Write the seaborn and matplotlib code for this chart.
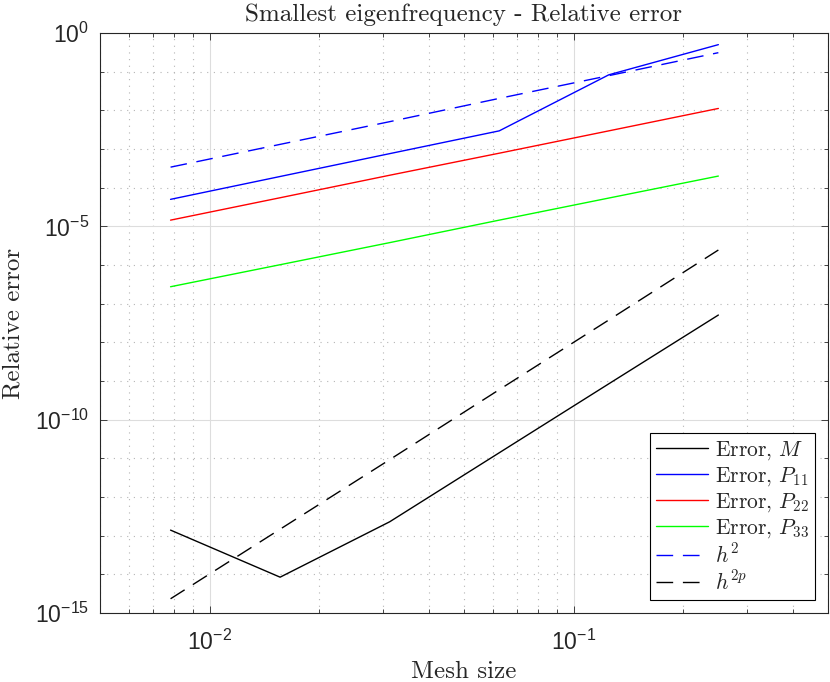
import numpy as np
import pandas as pd
import seaborn as sns
import matplotlib.pyplot as plt
from matplotlib.ticker import FixedLocator, FuncFormatter, LogLocator, NullFormatter

# mesh sizes
h = [1/128, 1/64, 1/32, 1/16, 1/8, 1/4]

# relative errors
err_M = [1.4e-13, 8.5e-15, 2.3e-13, 1.4e-11, 8.5e-10, 5.1e-8]
err_P11 = [5.0e-5, 1.95e-4, 7.6e-4, 2.95e-3, 8.3e-2, 0.50]
err_P22 = [1.45e-5, 5.5e-5, 2.1e-4, 7.8e-4, 2.95e-3, 1.12e-2]
err_P33 = [2.75e-7, 1.02e-6, 3.8e-6, 1.45e-5, 5.4e-5, 2.0e-4]
ref_h2 = [3.4e-4, 1.32e-3, 5.1e-3, 2.04e-2, 7.9e-2, 0.31]
ref_h2p = [2.35e-15, 1.48e-13, 9.3e-12, 6.0e-10, 3.8e-8, 2.45e-6]

series = [
    ('Error, $M$', err_M, 'black', '-'),
    ('Error, $P_{11}$', err_P11, 'blue', '-'),
    ('Error, $P_{22}$', err_P22, 'red', '-'),
    ('Error, $P_{33}$', err_P33, (0, 1, 0), '-'),
    ('$h^2$', ref_h2, 'blue', '--'),
    ('$h^{2p}$', ref_h2p, 'black', '--'),
]

sns.set_theme(style='ticks')
plt.rcParams['font.family'] = ['cmr10', 'DejaVu Serif']
plt.rcParams['mathtext.fontset'] = 'cm'
plt.rcParams['axes.formatter.use_mathtext'] = True
plt.rcParams['axes.unicode_minus'] = False

fig = plt.figure(figsize=(8.3, 6.82), dpi=100)
ax = fig.add_axes([0.1205, 0.101, 0.877, 0.8506])

for label, vals, color, ls in series:
    df = pd.DataFrame({'h': h, 'err': vals})
    sns.lineplot(data=df, x='h', y='err', color=color, linewidth=1.0,
                 ax=ax, label=label)
    if ls == '--':
        ax.lines[-1].set_dashes((12, 7))

ax.set_xscale('log')
ax.set_yscale('log')
ax.set_xlim(5e-3, 0.5)
ax.set_ylim(1e-15, 1e0)

# MATLAB-like ticks: labels only at a few decades
sci = FuncFormatter(lambda v, p: r'$\mathregular{10^{%d}}$' % int(round(np.log10(v))))
ax.xaxis.set_major_locator(FixedLocator([1e-2, 1e-1]))
ax.xaxis.set_minor_locator(LogLocator(base=10, subs=np.arange(2, 10), numticks=20))
ax.xaxis.set_major_formatter(sci)
ax.xaxis.set_minor_formatter(NullFormatter())
ax.yaxis.set_major_locator(FixedLocator([1e-15, 1e-10, 1e-5, 1e0]))
ax.yaxis.set_minor_locator(FixedLocator([10.0 ** k for k in range(-15, 1) if k % 5 != 0]))
ax.yaxis.set_major_formatter(sci)
ax.yaxis.set_minor_formatter(NullFormatter())

ax.tick_params(which='both', direction='in', top=True, right=True, width=0.6)
ax.tick_params(which='major', length=5, labelsize=16.5, labelfontfamily='Liberation Sans')
ax.tick_params(axis='x', which='major', pad=12)
ax.tick_params(axis='y', which='major', pad=8)
ax.tick_params(which='minor', length=3)
for s in ax.spines.values():
    s.set_linewidth(0.8)

ax.grid(True, which='major', color='#dddddd', linewidth=0.8, linestyle='-')
ax.grid(True, which='minor', color='#b5b5b5', linewidth=0.8, linestyle=(0, (1, 5)))
ax.set_axisbelow(True)

ax.set_title('Smallest eigenfrequency - Relative error', fontsize=18, pad=9)
ax.set_xlabel('Mesh size', fontsize=18)
ax.set_ylabel('Relative error', fontsize=18)
ax.xaxis.set_label_coords(0.5, -0.082)
ax.yaxis.set_label_coords(-0.104, 0.5)

leg = ax.legend(loc='lower right', fontsize=15.5, frameon=True, fancybox=False,
                edgecolor='black', framealpha=1, handlelength=2.4,
                handletextpad=0.3, borderpad=0.3, borderaxespad=0.6,
                labelspacing=0.15)
leg.get_frame().set_linewidth(0.8)
for lh in leg.get_lines():
    lh.set_linewidth(1.0)

fig.savefig('out.png', dpi=100)
